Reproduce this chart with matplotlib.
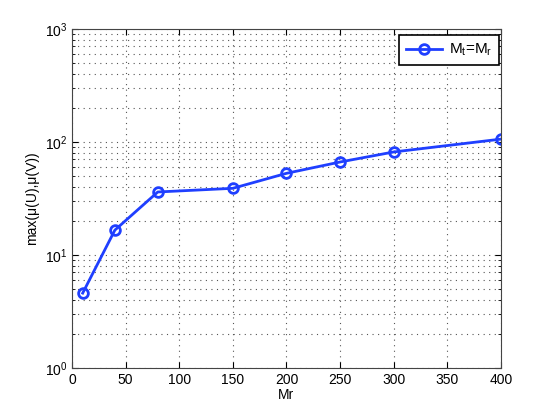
import numpy as np
import matplotlib.pyplot as plt
from matplotlib.ticker import LogLocator, NullFormatter

plt.rcParams['font.family'] = ['Liberation Sans', 'DejaVu Sans']
plt.rcParams['mathtext.fontset'] = 'custom'
plt.rcParams['mathtext.rm'] = 'Liberation Sans'
plt.rcParams['mathtext.it'] = 'Liberation Sans'

mr = [10, 40, 80, 150, 200, 250, 300, 400]
mu_max = [4.6, 16.6, 36.1, 38.9, 52.8, 66.5, 81.6, 106]

fig = plt.figure(figsize=(5.52, 4.15), dpi=100)
ax = fig.add_axes([0.1304, 0.1133, 0.7772, 0.8169])

ax.semilogy(mr, mu_max, '-o', color='#1f3fff', lw=2, ms=7, mfc='none', mew=2,
            label=r'M$_\mathrm{t}$=M$_\mathrm{r}$')

ax.set_xlim(0, 400)
ax.set_ylim(1, 1000)
ax.set_xticks(np.arange(0, 401, 50))
ax.yaxis.set_major_locator(LogLocator(base=10))
ax.yaxis.set_minor_locator(LogLocator(base=10, subs=np.arange(2, 10)))
ax.yaxis.set_minor_formatter(NullFormatter())

grid_kw = dict(ls=(0, (1, 4)), color='#555555', lw=0.8)
ax.grid(True, which='major', **grid_kw)
ax.grid(True, which='minor', axis='y', **grid_kw)

ax.tick_params(which='both', direction='in', top=True, right=True, labelsize=10)
ax.tick_params(which='major', length=4)
ax.tick_params(which='minor', length=2)
for s in ax.spines.values():
    s.set_color('#444444')

ax.set_xlabel('Mr', fontsize=10, labelpad=1)
ax.set_ylabel('max(μ(U),μ(V))', fontsize=10)

leg = ax.legend(loc='upper right', bbox_to_anchor=(0.995, 0.982), fontsize=11,
                fancybox=False, edgecolor='black', framealpha=1,
                handlelength=2.4, handletextpad=0.4, borderpad=0.45,
                borderaxespad=0)
leg.get_frame().set_linewidth(1.2)

fig.savefig('out.png', dpi=100)
